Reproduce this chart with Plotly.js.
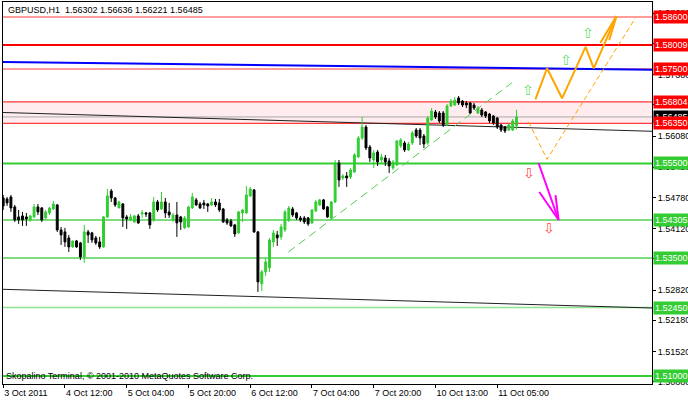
<!DOCTYPE html>
<html><head><meta charset="utf-8">
<script src="https://cdn.plot.ly/plotly-3.0.1.min.js"></script>
<style>html,body{margin:0;padding:0;background:#fff;}#chart{width:688px;height:401px;}</style>
</head><body><div id="chart"></div>
<script>
// GBPUSD H1 candles (bar 0 = 3 Oct 2011 20:00)
const open = [1.54770,1.54749,1.54791,1.54580,1.54368,1.54389,1.54368,1.54305,1.54368,1.54580,
1.54558,1.54347,1.54453,1.54537,1.54622,1.54093,1.54051,1.53924,1.53733,1.53860,
1.53818,1.53522,1.54051,1.54030,1.53924,1.53839,1.53733,1.54368,1.54918,1.54770,
1.54558,1.54643,1.54368,1.54305,1.54262,1.54389,1.54431,1.54453,1.54453,1.54305,
1.54685,1.54537,1.54685,1.54474,1.54305,1.54410,1.54368,1.54135,1.54156,1.54558,
1.54728,1.54643,1.54664,1.54643,1.54622,1.54685,1.54664,1.54537,1.54305,1.54283,
1.54199,1.54030,1.54453,1.54453,1.54812,1.54939,1.54051,1.52951,1.53205,1.53289,
1.53839,1.53987,1.53945,1.54093,1.54305,1.54537,1.54453,1.54347,1.54347,1.54347,
1.54241,1.54495,1.54622,1.54728,1.54580,1.54347,1.54685,1.55510,1.55193,1.55235,
1.55214,1.55320,1.55637,1.56039,1.56272,1.55849,1.55574,1.55743,1.55574,1.55616,
1.55553,1.55405,1.55468,1.55870,1.55933,1.55785,1.55933,1.56208,1.56208,1.56081,
1.55933,1.56420,1.56589,1.56568,1.56568,1.56314,1.56716,1.56737,1.56886,1.56822,
1.56780,1.56780,1.56737,1.56568,1.56632,1.56589,1.56547,1.56505,1.56462,1.56314,
1.56272,1.56208,1.56208,1.56302];
const high = [1.54833,1.54791,1.54833,1.54622,1.54516,1.54474,1.54453,1.54410,1.54643,1.54643,
1.54580,1.54516,1.54580,1.54706,1.54643,1.54156,1.54135,1.53987,1.53860,1.53881,
1.53839,1.54199,1.54093,1.54051,1.53966,1.53945,1.54389,1.54960,1.54960,1.54791,
1.54706,1.54664,1.54410,1.54431,1.54410,1.54431,1.54516,1.54474,1.54474,1.54791,
1.54728,1.54897,1.54770,1.54664,1.54453,1.54685,1.54389,1.54389,1.54601,1.54876,
1.54770,1.54685,1.54728,1.54664,1.54770,1.54749,1.54749,1.54558,1.54347,1.54326,
1.54220,1.54495,1.54537,1.55024,1.55003,1.54960,1.54072,1.53247,1.53501,1.53924,
1.54093,1.54072,1.54220,1.54516,1.54601,1.54580,1.54474,1.54389,1.54389,1.54368,
1.54537,1.54728,1.54749,1.54749,1.54601,1.54706,1.55574,1.55574,1.55278,1.55320,
1.55405,1.55722,1.56081,1.56483,1.56314,1.55891,1.55785,1.55785,1.55701,1.55680,
1.55616,1.55574,1.55997,1.56039,1.55976,1.55955,1.56187,1.56251,1.56251,1.56124,
1.56505,1.56674,1.56632,1.56610,1.56610,1.56758,1.56864,1.56907,1.56928,1.56843,
1.56822,1.56801,1.56780,1.56716,1.56674,1.56610,1.56568,1.56526,1.56483,1.56335,
1.56293,1.56335,1.56441,1.56636];
const low = [1.54516,1.54601,1.54474,1.54262,1.54220,1.54178,1.54178,1.54262,1.54347,1.54410,
1.54262,1.54305,1.54410,1.54516,1.54051,1.53776,1.53733,1.53627,1.53712,1.53712,
1.53458,1.53395,1.53818,1.53818,1.53776,1.53691,1.53712,1.54347,1.54685,1.54580,
1.54558,1.54156,1.54114,1.54283,1.54241,1.54220,1.54347,1.54368,1.54114,1.54262,
1.54474,1.54516,1.54347,1.54347,1.54262,1.53945,1.54093,1.54114,1.54135,1.54537,
1.54601,1.54537,1.54537,1.54474,1.54601,1.54580,1.54474,1.54241,1.54199,1.54156,
1.53945,1.54008,1.54262,1.54431,1.54791,1.54030,1.52780,1.52801,1.53120,1.53205,
1.53733,1.53754,1.53881,1.54051,1.54262,1.54368,1.54305,1.54262,1.54220,1.54178,
1.54220,1.54474,1.54601,1.54516,1.54347,1.54305,1.54664,1.55003,1.55151,1.55003,
1.55172,1.55299,1.55616,1.55997,1.55785,1.55532,1.55405,1.55447,1.55510,1.55447,
1.55299,1.55362,1.55447,1.55828,1.55743,1.55764,1.55891,1.56039,1.55891,1.55828,
1.55891,1.56399,1.56441,1.56356,1.56272,1.56293,1.56695,1.56716,1.56737,1.56695,
1.56674,1.56547,1.56632,1.56547,1.56483,1.56462,1.56356,1.56314,1.56230,1.56166,
1.56145,1.56187,1.56187,1.56221];
const close = [1.54601,1.54664,1.54558,1.54305,1.54305,1.54305,1.54326,1.54389,1.54580,1.54474,
1.54305,1.54474,1.54558,1.54643,1.54093,1.53987,1.53839,1.53733,1.53860,1.53733,
1.53522,1.54051,1.53987,1.53881,1.53818,1.53733,1.54368,1.54812,1.54770,1.54622,
1.54685,1.54347,1.54326,1.54368,1.54389,1.54241,1.54453,1.54431,1.54199,1.54685,
1.54516,1.54685,1.54453,1.54410,1.54410,1.54241,1.54262,1.54347,1.54580,1.54791,
1.54622,1.54558,1.54622,1.54601,1.54685,1.54622,1.54516,1.54262,1.54241,1.54178,
1.54008,1.54474,1.54516,1.54833,1.54960,1.54051,1.52993,1.53205,1.53416,1.53881,
1.54030,1.53924,1.54156,1.54474,1.54558,1.54410,1.54347,1.54305,1.54262,1.54220,
1.54516,1.54685,1.54728,1.54537,1.54368,1.54685,1.55510,1.55151,1.55235,1.55193,
1.55362,1.55680,1.56039,1.56272,1.55828,1.55616,1.55722,1.55532,1.55637,1.55532,
1.55447,1.55532,1.55976,1.55997,1.55785,1.55912,1.56145,1.56081,1.56039,1.55912,
1.56462,1.56610,1.56483,1.56399,1.56314,1.56716,1.56822,1.56843,1.56780,1.56737,
1.56737,1.56568,1.56674,1.56674,1.56526,1.56505,1.56399,1.56356,1.56272,1.56208,
1.56187,1.56314,1.56399,1.56485];
const bars = open.map((_, i) => i);

// time axis labels (bar index -> label)
const timeTickBars = [0, 16, 32, 48, 64, 80, 96, 112, 128];
const timeTickText = ['3 Oct 2011','4 Oct 12:00','5 Oct 04:00','5 Oct 20:00','6 Oct 12:00','7 Oct 04:00','7 Oct 20:00','10 Oct 13:00','11 Oct 05:00'];

// price scale ticks
const priceTicks = [1.58680,1.58040,1.57380,1.56740,1.56080,1.55420,1.54780,1.54120,1.53480,1.52820,1.52180,1.51520,1.50880];

// horizontal levels
const resistanceLevels = [1.58600, 1.58009, 1.57500, 1.56804, 1.56350];
const supportLevels = [1.55500, 1.54305, 1.53500, 1.52450, 1.51000];
const bidPrice = 1.56485;
const zoneTop = 1.56804, zoneBottom = 1.56350;

// trend objects [bar index, price]
const blueLine = {x: [-1, 168.2], y: [1.57650, 1.57482]};
const channelUpper = {x: [-1, 168.2], y: [1.56581, 1.56181]};
const channelLower = {x: [-1, 168.2], y: [1.52838, 1.52440]};
const greenTrend = {x: [73.9, 131.8], y: [1.53626, 1.57207]};
const orangeZigzag = {x: [137.9, 140.9, 144.8, 150.9, 153.0, 158.9], y: [1.56858, 1.57514, 1.56879, 1.57967, 1.57514, 1.58621]};
const orangeHead = {x: [154.7, 158.9, 157.0], y: [1.58050, 1.58621, 1.58110]};
const orangeDashed = {x: [136.1, 140.9, 163.8], y: [1.56384, 1.55588, 1.58579]};
const magentaArrow = {x: [138.7, 143.9], y: [1.55510, 1.54303]};
const magentaHead = {x: [138.9, 143.9, 143.1], y: [1.54896, 1.54303, 1.54832]};
const upArrows = {x: [136.1, 145.9, 151.6], y: [1.57055, 1.57690, 1.58261]};
const downArrows = {x: [136.3, 141.3], y: [1.55298, 1.54134]};

const FONT = 'Liberation Sans, Arial, sans-serif';

const traces = [
  {type:'candlestick', x:bars, open:open, high:high, low:low, close:close,
   increasing:{line:{color:'#32cd32', width:1}, fillcolor:'#32cd32'},
   decreasing:{line:{color:'#000000', width:1}, fillcolor:'#000000'},
   whiskerwidth:0, hoverinfo:'skip', showlegend:false},
  {type:'scatter', mode:'lines', x:greenTrend.x, y:greenTrend.y, line:{color:'#55cc55', width:1, dash:'8px,5px'}, hoverinfo:'skip'},
  {type:'scatter', mode:'lines', x:orangeDashed.x, y:orangeDashed.y, line:{color:'#ffa500', width:1, dash:'5px,3px'}, hoverinfo:'skip'},
  {type:'scatter', mode:'lines', x:orangeZigzag.x, y:orangeZigzag.y, line:{color:'#ffa500', width:2}, hoverinfo:'skip'},
  {type:'scatter', mode:'lines', x:orangeHead.x, y:orangeHead.y, line:{color:'#ffa500', width:2}, hoverinfo:'skip'},
  {type:'scatter', mode:'lines', x:magentaArrow.x, y:magentaArrow.y, line:{color:'#ff00ff', width:2}, hoverinfo:'skip'},
  {type:'scatter', mode:'lines', x:magentaHead.x, y:magentaHead.y, line:{color:'#ff00ff', width:2}, hoverinfo:'skip'}
];

const shapes = [];
shapes.push({type:'rect', xref:'paper', x0:0, x1:1, yref:'y', y0:zoneBottom, y1:zoneTop, fillcolor:'rgba(255,200,210,0.35)', line:{width:0}, layer:'below'});
resistanceLevels.forEach((v, i) => shapes.push({type:'line', xref:'paper', x0:0, x1:1, yref:'y', y0:v, y1:v,
  line:{color: i === 1 ? '#ff0000' : '#ff3b3b', width: i === 1 ? 2 : 1.2}, layer:'below'}));
const supStyles = [{c:'#32cd32', w:2}, {c:'#55d055', w:1.5}, {c:'#55d055', w:1.5}, {c:'#8fe48f', w:1.5}, {c:'#32cd32', w:2}];
supportLevels.forEach((v, i) => shapes.push({type:'line', xref:'paper', x0:0, x1:1, yref:'y', y0:v, y1:v,
  line:{color:supStyles[i].c, width:supStyles[i].w}, layer:'below'}));
shapes.push({type:'line', xref:'paper', x0:0, x1:1, yref:'y', y0:bidPrice, y1:bidPrice, line:{color:'#a8a8a8', width:1}, layer:'below'});
[[blueLine, '#0000ff', 2], [channelUpper, '#202020', 1], [channelLower, '#202020', 1]].forEach(([ln, c, w]) =>
  shapes.push({type:'line', xref:'x', yref:'y', x0:ln.x[0], x1:ln.x[1], y0:ln.y[0], y1:ln.y[1], line:{color:c, width:w}, layer:'below'}));

const annotations = [];
function priceLabel(v, bg) {
  annotations.push({xref:'paper', x:1, xanchor:'left', xshift:1, yref:'y', y:v, yanchor:'middle',
    text:v.toFixed(5), showarrow:false, bgcolor:bg, borderpad:1,
    font:{family:FONT, size:9, color:'#ffffff'}});
}
priceLabel(bidPrice, '#000000');
resistanceLevels.forEach(v => priceLabel(v, '#ff0000'));
supportLevels.forEach(v => priceLabel(v, '#33cc33'));
upArrows.x.forEach((x, i) => annotations.push({xref:'x', yref:'y', x:x, y:upArrows.y[i], text:'\u21e7', showarrow:false,
  font:{family:'DejaVu Sans', size:14, color:'#66dd66'}}));
downArrows.x.forEach((x, i) => annotations.push({xref:'x', yref:'y', x:x, y:downArrows.y[i], text:'\u21e9', showarrow:false,
  font:{family:'DejaVu Sans', size:14, color:'#ff5050'}}));
annotations.push({xref:'paper', yref:'paper', x:0, y:1, xanchor:'left', yanchor:'top', xshift:3, yshift:-1,
  text:'GBPUSD,H1\u00a0\u00a01.56302 1.56636 1.56221 1.56485', showarrow:false, font:{family:FONT, size:9, color:'#000'}});
annotations.push({xref:'paper', yref:'paper', x:0, y:0, xanchor:'left', yanchor:'bottom', xshift:1, yshift:1,
  text:'Skopalino Terminal, \u00a9 2001-2010 MetaQuotes Software Corp.', showarrow:false, font:{family:FONT, size:9, color:'#000'}});

const layout = {
  width:688, height:401,
  margin:{l:3, r:36, t:2, b:17, pad:0},
  paper_bgcolor:'#ffffff', plot_bgcolor:'#ffffff',
  showlegend:false,
  xaxis:{range:[-0.05, 168.1], tickvals:timeTickBars, ticktext:timeTickText, tickangle:0,
    ticks:'outside', ticklen:3, tickcolor:'#000', ticklabelposition:'outside right',
    showline:true, linecolor:'#000', linewidth:1, mirror:true, showgrid:false, zeroline:false,
    rangeslider:{visible:false}, tickfont:{family:FONT, size:9, color:'#000'}, fixedrange:true},
  yaxis:{side:'right', range:[1.50831, 1.58918], tickvals:priceTicks, ticktext:priceTicks.map(v => v.toFixed(5)),
    ticks:'outside', ticklen:3, tickcolor:'#000', showline:true, linecolor:'#000', linewidth:1, mirror:true,
    showgrid:false, zeroline:false, tickfont:{family:FONT, size:9, color:'#000'}, fixedrange:true},
  shapes:shapes, annotations:annotations
};
Plotly.newPlot('chart', traces, layout, {staticPlot:true, displayModeBar:false});
</script></body></html>
